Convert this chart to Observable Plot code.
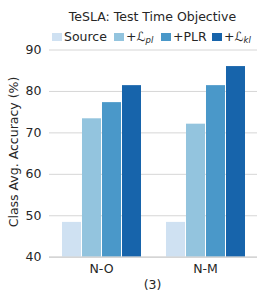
<!DOCTYPE html>
<html><head><meta charset="utf-8">
<script src="https://cdn.jsdelivr.net/npm/d3@7"></script>
<script src="https://cdn.jsdelivr.net/npm/@observablehq/plot@0.6"></script>
<style>
body{margin:0;background:#fff;font-family:"DejaVu Sans",sans-serif;color:#262626}
#wrap{position:relative;width:266px;height:301px;overflow:hidden;background:#fff}
#title{position:absolute;z-index:2;left:48px;width:209px;top:9px;text-align:center;font-size:12.5px;line-height:16px;white-space:nowrap}
#legend{position:absolute;z-index:2;left:0;top:0}
.li{position:absolute;top:29px;font-size:12.5px;line-height:15px;white-space:nowrap}
.sw{display:inline-block;width:10px;height:8px;margin-right:2px;vertical-align:0px}
.li sub{font-size:8.5px;font-style:italic;vertical-align:-2px;line-height:0}
#chart{position:absolute;z-index:1;left:0;top:34px}
#cap{position:absolute;left:48px;width:209px;top:277px;text-align:center;font-size:12.5px;line-height:16px}
#ylab{position:absolute;z-index:2;left:12.5px;top:152px;transform:translate(-50%,-50%) rotate(-90deg);font-size:12.5px;white-space:nowrap}
</style></head>
<body><div id="wrap">
<div id="title">TeSLA: Test Time Objective</div>
<div id="legend"></div>
<div id="chart"></div>
<div id="ylab">Class Avg. Accuracy (%)</div>
<div id="cap">(3)</div>
</div>
<script>
const groups = ["N-O", "N-M"];
const series = ["Source", "pl", "PLR", "kl"];
const seriesLabels = ["Source", "+ℒ<sub>pl</sub>", "+PLR", "+ℒ<sub>kl</sub>"];
const colors = ["#cfe1f2", "#93c4de", "#4a98c9", "#1764ab"];
const sourceVals = [48.4, 48.4];
const plVals = [73.4, 72.1];
const plrVals = [77.3, 81.4];
const klVals = [81.4, 86.0];
const yTicks = [40, 50, 60, 70, 80, 90];

const valsBySeries = [sourceVals, plVals, plrVals, klVals];
const data = [];
groups.forEach((g, gi) => series.forEach((s, si) => data.push({group: g, series: s, value: valsBySeries[si][gi]})));

// legend
const legendX = [52, 114, 161, 212];
const legend = document.getElementById("legend");
series.forEach((s, i) => {
  const d = document.createElement("div");
  d.className = "li";
  d.style.left = legendX[i] + "px";
  d.innerHTML = `<span class="sw" style="background:${colors[i]}"></span>${seriesLabels[i]}`;
  legend.appendChild(d);
});

const chart = Plot.plot({
  width: 266,
  height: 243,
  marginLeft: 48,
  marginRight: 9,
  marginTop: 15.5,
  marginBottom: 20.3,
  style: {fontFamily: "DejaVu Sans, sans-serif", fontSize: "12.5px", color: "#262626", background: "transparent"},
  fx: {domain: groups, padding: 0, label: null, tickSize: 0, tickPadding: 7},
  x: {domain: series, axis: null, paddingInner: 0.06, paddingOuter: 0.53},
  y: {domain: [40, 90], ticks: yTicks, label: null, tickSize: 0, tickPadding: 8},
  color: {domain: series, range: colors},
  marks: [
    Plot.gridY(yTicks, {stroke: "#d6d6d6", strokeOpacity: 1, strokeWidth: 1}),
    Plot.barY(data, {fx: "group", x: "series", y1: 40, y2: "value", fill: "series"}),
    Plot.ruleY([40], {stroke: "#d0d0d0", strokeWidth: 1.2})
  ]
});
document.getElementById("chart").appendChild(chart);
</script>
</body></html>
